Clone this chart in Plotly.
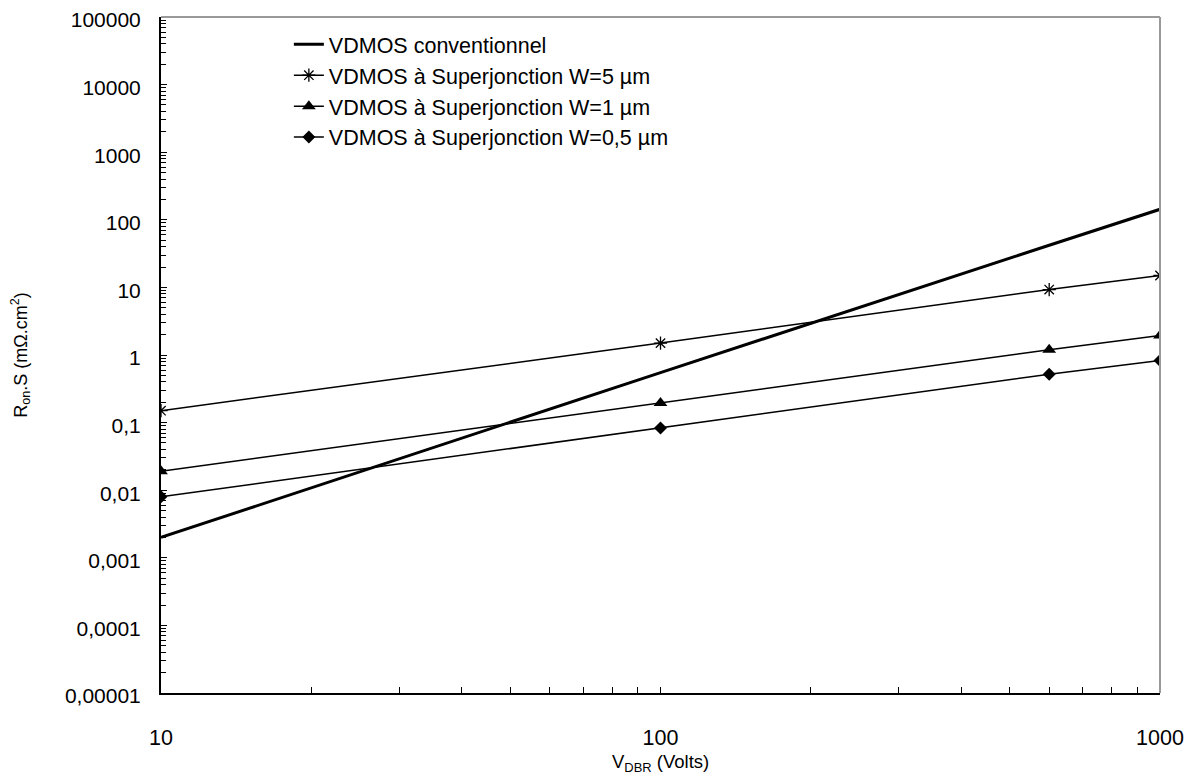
import plotly.graph_objects as go

# ==========================================
# DONNÉES
# ==========================================

v_dbr = [10, 100, 600, 1000]

ron_conv = [0.002, 0.55, 42, 143]
ron_w5 = [0.15, 1.5, 9.3, 15]
ron_w1 = [0.019, 0.195, 1.2, 1.95]
ron_w05 = [0.008, 0.083, 0.52, 0.83]

y_ticks = [1e-5, 1e-4, 1e-3, 1e-2, 1e-1, 1, 10, 100, 1000, 10000, 100000]
y_labels = ["0,00001", "0,0001", "0,001", "0,01", "0,1", "1", "10", "100",
            "1000", "10000", "100000"]
x_ticks = [10, 100, 1000]
x_labels = ["10", "100", "1000"]

FONT = "Liberation Sans, Arial, sans-serif"

fig = go.Figure()

# VDMOS conventionnel
fig.add_trace(
    go.Scatter(
        x=v_dbr,
        y=ron_conv,
        mode="lines",
        name="VDMOS conventionnel",
        line=dict(color="black", width=3)
    )
)

# W = 5 µm
fig.add_trace(
    go.Scatter(
        x=v_dbr,
        y=ron_w5,
        mode="lines+markers",
        name="VDMOS à Superjonction W=5 µm",
        line=dict(color="black", width=1.5),
        marker=dict(symbol="asterisk-open", size=11, color="black",
                    line=dict(color="black", width=1.3))
    )
)

# W = 1 µm
fig.add_trace(
    go.Scatter(
        x=v_dbr,
        y=ron_w1,
        mode="lines+markers",
        name="VDMOS à Superjonction W=1 µm",
        line=dict(color="black", width=1.5),
        marker=dict(symbol="triangle-up", size=12, color="black")
    )
)

# W = 0,5 µm
fig.add_trace(
    go.Scatter(
        x=v_dbr,
        y=ron_w05,
        mode="lines+markers",
        name="VDMOS à Superjonction W=0,5 µm",
        line=dict(color="black", width=1.5),
        marker=dict(symbol="diamond", size=10, color="black")
    )
)

# bords haut / droite gris
fig.add_shape(type="line", xref="paper", yref="paper", x0=0, x1=1, y0=1, y1=1,
              line=dict(color="#999999", width=2))
fig.add_shape(type="line", xref="paper", yref="paper", x0=1, x1=1, y0=0, y1=1,
              line=dict(color="#999999", width=2))

# titre axe X
fig.add_annotation(
    text="V<sub>DBR</sub> (Volts)",
    xref="paper", yref="paper",
    x=0.5, y=-0.103,
    xanchor="center", yanchor="middle",
    showarrow=False,
    font=dict(family=FONT, size=18.5, color="black")
)

fig.update_layout(
    width=1180,
    height=766,
    plot_bgcolor="white",
    paper_bgcolor="white",
    font=dict(family=FONT, size=21, color="black"),
    margin=dict(l=153, r=28, t=9, b=81, autoexpand=False),
    showlegend=True,
    legend=dict(
        x=0.128, y=0.99, xanchor="left", yanchor="top",
        bgcolor="rgba(0,0,0,0)",
        font=dict(family=FONT, size=21.5, color="black"),
        tracegroupgap=0,
        itemwidth=30
    ),
    xaxis=dict(
        type="log",
        range=[1, 3],
        tickvals=x_ticks,
        ticktext=x_labels,
        showgrid=False,
        zeroline=False,
        showline=True,
        linecolor="black",
        linewidth=2,
        ticks="inside",
        ticklen=6,
        tickcolor="black",
        tickfont=dict(size=21.5),
        ticklabelstandoff=24,
        ticklabeloverflow="allow",
        minor=dict(ticks="inside", ticklen=6, tickcolor="black",
                   dtick="D1", showgrid=False)
    ),
    yaxis=dict(
        type="log",
        range=[-5, 5],
        tickvals=y_ticks,
        ticktext=y_labels,
        showgrid=False,
        zeroline=False,
        showline=True,
        linecolor="black",
        linewidth=2,
        ticks="inside",
        ticklen=6,
        tickcolor="black",
        ticklabelstandoff=14,
        ticklabelshift=3,
        ticklabeloverflow="allow",
        minor=dict(ticks="inside", ticklen=5, tickcolor="black",
                   dtick="D1", showgrid=False),
        title=dict(text="R<sub>on</sub>.S (mΩ.cm<sup>2</sup>)", standoff=34,
                   font=dict(family=FONT, size=18))
    )
)

fig.write_html("out.html")
